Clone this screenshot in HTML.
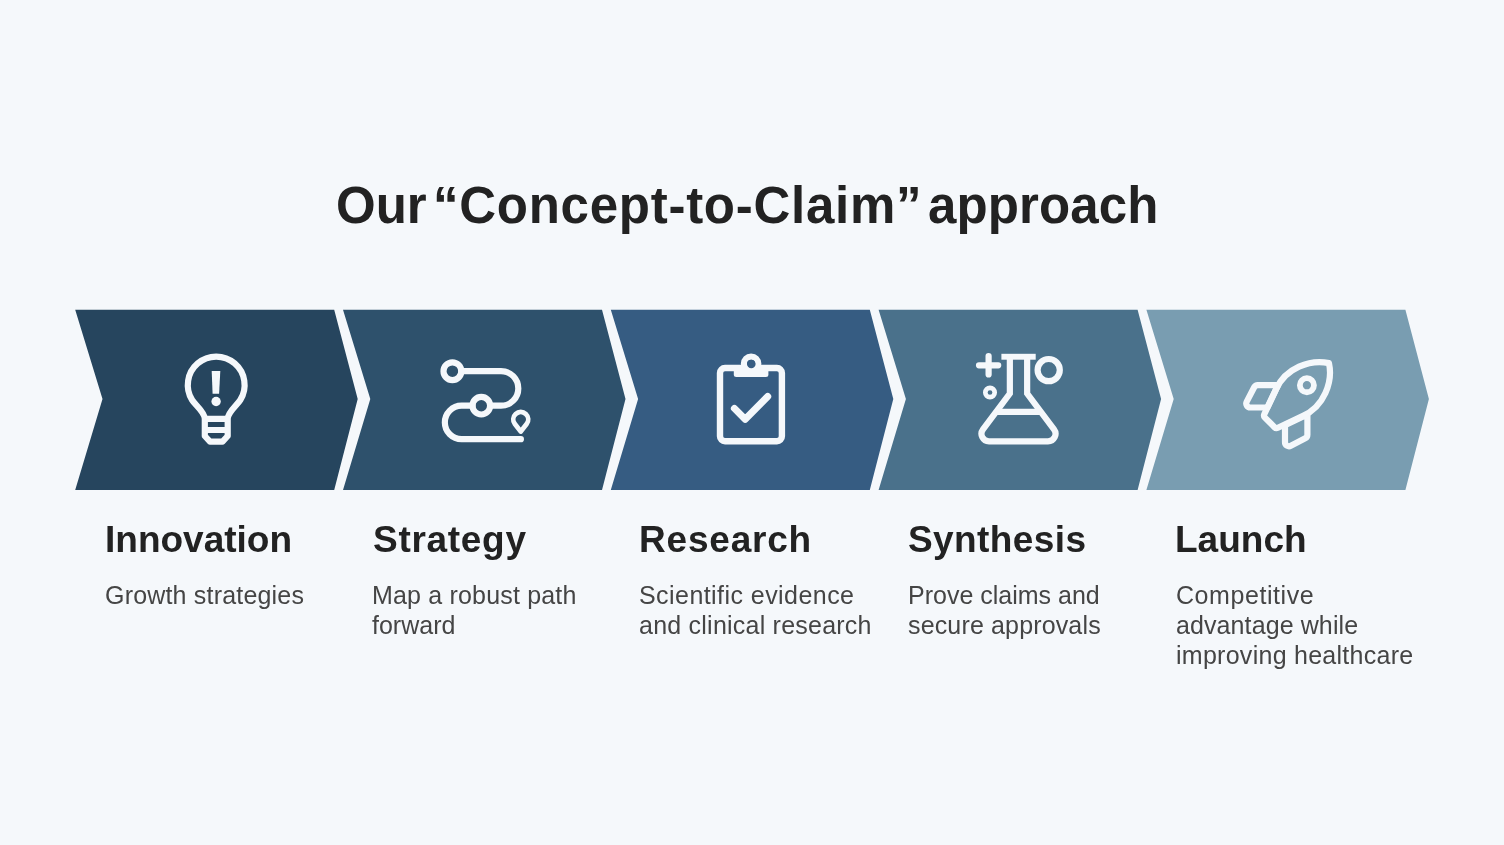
<!DOCTYPE html>
<html><head><meta charset="utf-8">
<style>
html,body{margin:0;padding:0;}
body{width:1504px;height:845px;background:#F5F8FB;position:relative;overflow:hidden;font-family:"Liberation Sans",sans-serif;}
.t{position:absolute;top:176px;font-weight:bold;font-size:51px;line-height:60px;color:#222222;white-space:nowrap;}
svg{position:absolute;left:0;top:0;}
.t,.lab,.desc{will-change:transform;}
.lab{position:absolute;top:518px;font-weight:bold;font-size:37px;line-height:44px;color:#222222;white-space:nowrap;}
.desc{position:absolute;top:580px;font-size:25px;line-height:30px;color:#454545;white-space:nowrap;}
.desc span{display:block;}
</style></head><body>
<div class="t" style="left:336px">Our</div><div class="t" style="left:432.7px;letter-spacing:0.74px">“Concept-to-Claim”</div><div class="t" style="left:928.4px;letter-spacing:0.13px">approach</div>
<svg width="1504" height="845" viewBox="0 0 1504 845">
<polygon fill="#26455E" points="75.20,309.7 334.20,309.7 357.70,399 334.20,490 75.20,490 102.50,399"/>
<polygon fill="#2E516C" points="343.00,309.7 602.00,309.7 625.50,399 602.00,490 343.00,490 370.30,399"/>
<polygon fill="#365C82" points="610.80,309.7 869.80,309.7 893.30,399 869.80,490 610.80,490 638.10,399"/>
<polygon fill="#4A718B" points="878.60,309.7 1137.60,309.7 1161.10,399 1137.60,490 878.60,490 905.90,399"/>
<polygon fill="#799DB1" points="1146.40,309.7 1405.40,309.7 1428.90,399 1405.40,490 1146.40,490 1173.70,399"/>
<g fill="none" stroke="#F5F8FB" stroke-width="6.2" stroke-linecap="round" stroke-linejoin="round">
<path d="M204.8,418.8 C204.8,412 195.3,405.1 192.1,400 A28.4,28.4 0 1 1 240.3,400 C237.1,405.1 227.7,412 227.7,418.8 V436 L222.5,441.6 H210 L204.8,436 Z M204.8,418.8 H227.7 M204.8,430 H227.7"/>
<circle cx="452.4" cy="371.2" r="8.9"/>
<path d="M461.3,371.1 H501 A17.3,17.3 0 0 1 501,405.7 H490.2"/>
<circle cx="481.3" cy="405.7" r="8.8"/>
<path d="M472.5,405.7 H461.6 A16.7,16.7 0 0 0 461.6,439.2 H520.9" />
<path stroke-width="4.8" d="M520.75,431.50 L526.61,424.06 A7.45,7.45 0 1 0 514.89,424.06 Z"/>
<rect x="720.0" y="368.0" width="61.9" height="73.3" rx="5" ry="5" stroke-width="6.4"/>
<circle cx="751.1" cy="363.8" r="7.2"/>
<path stroke-width="7" d="M734.4,408.4 L745.2,419.2 L767.7,396.5"/>
<path stroke-linecap="butt" stroke-linejoin="miter" d="M1009.85,359.00 L1009.85,393.50 L983.00,429.30 A7.50,7.50 0 0 0 989.00,441.30 L1048.00,441.30 A7.50,7.50 0 0 0 1054.00,429.30 L1027.15,393.50 L1027.15,359.00 "/>
<path stroke-linecap="butt" d="M996.01,411.95 H1040.99"/>
<path d="M979,365.3 H998.2 M988.6,356.1 V374.5"/>
<circle cx="1048.7" cy="370.1" r="11.1"/>
<circle cx="990" cy="392.5" r="4.7" stroke-width="4.65"/>
<g transform="translate(1306.9,385.2) rotate(-45)"><path stroke-linejoin="round" d="M31.2,0 C21,-16 -3,-27.5 -25,-18.8 L-50.6,-9.6 A3,3 0 0 0 -52.6,-6.8 L-52.6,6.8 A3,3 0 0 0 -50.6,9.6 L-25,18.8 C-3,27.5 21,16 31.2,0 Z"/>
<circle cx="0" cy="0" r="7.04" stroke-width="5.8"/></g><path d="M1254.18,387.26 A4.00,4.00 0 0 1 1257.73,385.10 L1278.00,385.10 L1267.40,407.50 L1250.28,407.50 A4.00,4.00 0 0 1 1246.72,401.66 Z"/><path d="M1305.24,438.32 A4.00,4.00 0 0 0 1307.40,434.77 L1307.40,414.50 L1285.00,425.10 L1285.00,442.22 A4.00,4.00 0 0 0 1290.84,445.78 Z"/>
</g>
<g fill="#F5F8FB">
<polygon points="211.7,371 220.3,371 219.1,393.7 212.6,393.7"/><circle cx="216.1" cy="401.5" r="4.7"/>
<path d="M733.8,365 H768.4 V374.5 A2.5,2.5 0 0 1 765.9,377 H736.3 A2.5,2.5 0 0 1 733.8,374.5 Z"/>
<rect x="1001.4" y="353.8" width="34.3" height="5.9"/>
</g>
<circle cx="751.3" cy="364.0" r="4.25" fill="#365C82"/>
</svg>
<div class="lab" style="left:105px">Innovation</div>
<div class="lab" style="left:372.8px;letter-spacing:0.7px">Strategy</div>
<div class="lab" style="left:639.4px;letter-spacing:0.8px">Research</div>
<div class="lab" style="left:907.8px;letter-spacing:0.4px">Synthesis</div>
<div class="lab" style="left:1175.1px">Launch</div>
<div class="desc" style="left:105.3px"><span style="letter-spacing:0.19px">Growth strategies</span></div>
<div class="desc" style="left:372.2px"><span style="letter-spacing:0.18px">Map a robust path</span><span>forward</span></div>
<div class="desc" style="left:639.2px"><span style="letter-spacing:0.44px">Scientific evidence</span><span style="letter-spacing:0.23px">and clinical research</span></div>
<div class="desc" style="left:907.7px"><span>Prove claims and</span><span style="letter-spacing:0.15px">secure approvals</span></div>
<div class="desc" style="left:1175.9px"><span style="letter-spacing:0.56px">Competitive</span><span style="letter-spacing:0.1px">advantage while</span><span style="letter-spacing:0.27px">improving healthcare</span></div>
</body></html>
